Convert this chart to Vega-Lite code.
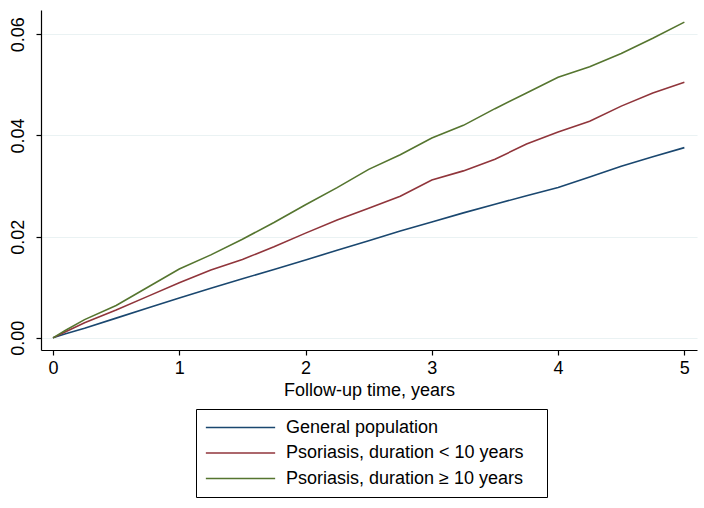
{
  "$schema": "https://vega.github.io/schema/vega-lite/v6.json",
  "width": 656,
  "height": 340,
  "autosize": {"type": "none"},
  "padding": {"left": 41, "top": 10, "right": 7, "bottom": 158},
  "background": "white",
  "config": {
    "view": {"stroke": null},
    "font": "Liberation Sans",
    "axis": {
      "domainColor": "black",
      "tickColor": "black",
      "labelColor": "black",
      "titleColor": "black",
      "labelFont": "Liberation Sans",
      "titleFont": "Liberation Sans",
      "labelFontSize": 18,
      "titleFontSize": 18,
      "titleFontWeight": "normal",
      "tickSize": 5,
      "domainWidth": 1.2,
      "tickWidth": 1.2
    }
  },
  "data": {
    "values": [
      {"t": 0, "r": 0, "g": "General population"},
      {"t": 0.1, "r": 0.0008, "g": "General population"},
      {"t": 0.25, "r": 0.0019, "g": "General population"},
      {"t": 0.5, "r": 0.0039, "g": "General population"},
      {"t": 0.75, "r": 0.0059, "g": "General population"},
      {"t": 1, "r": 0.0079, "g": "General population"},
      {"t": 1.25, "r": 0.0098, "g": "General population"},
      {"t": 1.5, "r": 0.0117, "g": "General population"},
      {"t": 1.75, "r": 0.0135, "g": "General population"},
      {"t": 2, "r": 0.0154, "g": "General population"},
      {"t": 2.25, "r": 0.0173, "g": "General population"},
      {"t": 2.5, "r": 0.0192, "g": "General population"},
      {"t": 2.75, "r": 0.0211, "g": "General population"},
      {"t": 3, "r": 0.0229, "g": "General population"},
      {"t": 3.25, "r": 0.0247, "g": "General population"},
      {"t": 3.5, "r": 0.0264, "g": "General population"},
      {"t": 3.75, "r": 0.0281, "g": "General population"},
      {"t": 4, "r": 0.0297, "g": "General population"},
      {"t": 4.25, "r": 0.0318, "g": "General population"},
      {"t": 4.5, "r": 0.0339, "g": "General population"},
      {"t": 4.75, "r": 0.0358, "g": "General population"},
      {"t": 5, "r": 0.0376, "g": "General population"},
      {"t": 0, "r": 0, "g": "Psoriasis, duration < 10 years"},
      {"t": 0.1, "r": 0.0012, "g": "Psoriasis, duration < 10 years"},
      {"t": 0.25, "r": 0.0030, "g": "Psoriasis, duration < 10 years"},
      {"t": 0.5, "r": 0.0055, "g": "Psoriasis, duration < 10 years"},
      {"t": 0.75, "r": 0.0082, "g": "Psoriasis, duration < 10 years"},
      {"t": 1, "r": 0.0109, "g": "Psoriasis, duration < 10 years"},
      {"t": 1.25, "r": 0.0134, "g": "Psoriasis, duration < 10 years"},
      {"t": 1.5, "r": 0.0155, "g": "Psoriasis, duration < 10 years"},
      {"t": 1.75, "r": 0.0180, "g": "Psoriasis, duration < 10 years"},
      {"t": 2, "r": 0.0207, "g": "Psoriasis, duration < 10 years"},
      {"t": 2.25, "r": 0.0233, "g": "Psoriasis, duration < 10 years"},
      {"t": 2.5, "r": 0.0256, "g": "Psoriasis, duration < 10 years"},
      {"t": 2.75, "r": 0.0280, "g": "Psoriasis, duration < 10 years"},
      {"t": 3, "r": 0.0312, "g": "Psoriasis, duration < 10 years"},
      {"t": 3.25, "r": 0.0330, "g": "Psoriasis, duration < 10 years"},
      {"t": 3.5, "r": 0.0353, "g": "Psoriasis, duration < 10 years"},
      {"t": 3.75, "r": 0.0383, "g": "Psoriasis, duration < 10 years"},
      {"t": 4, "r": 0.0407, "g": "Psoriasis, duration < 10 years"},
      {"t": 4.25, "r": 0.0428, "g": "Psoriasis, duration < 10 years"},
      {"t": 4.5, "r": 0.0458, "g": "Psoriasis, duration < 10 years"},
      {"t": 4.75, "r": 0.0484, "g": "Psoriasis, duration < 10 years"},
      {"t": 5, "r": 0.0505, "g": "Psoriasis, duration < 10 years"},
      {"t": 0, "r": 0, "g": "Psoriasis, duration ≥ 10 years"},
      {"t": 0.1, "r": 0.0015, "g": "Psoriasis, duration ≥ 10 years"},
      {"t": 0.25, "r": 0.0036, "g": "Psoriasis, duration ≥ 10 years"},
      {"t": 0.5, "r": 0.0064, "g": "Psoriasis, duration ≥ 10 years"},
      {"t": 0.75, "r": 0.0100, "g": "Psoriasis, duration ≥ 10 years"},
      {"t": 1, "r": 0.0136, "g": "Psoriasis, duration ≥ 10 years"},
      {"t": 1.25, "r": 0.0164, "g": "Psoriasis, duration ≥ 10 years"},
      {"t": 1.5, "r": 0.0195, "g": "Psoriasis, duration ≥ 10 years"},
      {"t": 1.75, "r": 0.0228, "g": "Psoriasis, duration ≥ 10 years"},
      {"t": 2, "r": 0.0263, "g": "Psoriasis, duration ≥ 10 years"},
      {"t": 2.25, "r": 0.0297, "g": "Psoriasis, duration ≥ 10 years"},
      {"t": 2.5, "r": 0.0333, "g": "Psoriasis, duration ≥ 10 years"},
      {"t": 2.75, "r": 0.0362, "g": "Psoriasis, duration ≥ 10 years"},
      {"t": 3, "r": 0.0395, "g": "Psoriasis, duration ≥ 10 years"},
      {"t": 3.25, "r": 0.0420, "g": "Psoriasis, duration ≥ 10 years"},
      {"t": 3.5, "r": 0.0453, "g": "Psoriasis, duration ≥ 10 years"},
      {"t": 3.75, "r": 0.0484, "g": "Psoriasis, duration ≥ 10 years"},
      {"t": 4, "r": 0.0515, "g": "Psoriasis, duration ≥ 10 years"},
      {"t": 4.25, "r": 0.0536, "g": "Psoriasis, duration ≥ 10 years"},
      {"t": 4.5, "r": 0.0562, "g": "Psoriasis, duration ≥ 10 years"},
      {"t": 4.75, "r": 0.0592, "g": "Psoriasis, duration ≥ 10 years"},
      {"t": 5, "r": 0.0624, "g": "Psoriasis, duration ≥ 10 years"}
    ]
  },
  "mark": {"type": "line", "strokeWidth": 1.6, "interpolate": "linear"},
  "encoding": {
    "x": {
      "field": "t",
      "type": "quantitative",
      "scale": {"domain": [-0.095, 5.1], "nice": false, "zero": false},
      "axis": {
        "values": [0, 1, 2, 3, 4, 5],
        "format": "d",
        "grid": false,
        "title": "Follow-up time, years",
        "labelPadding": 4,
        "titlePadding": 4
      }
    },
    "y": {
      "field": "r",
      "type": "quantitative",
      "scale": {"domain": [-0.0024, 0.0648], "nice": false, "zero": false},
      "axis": {
        "values": [0, 0.02, 0.04, 0.06],
        "format": ".2f",
        "title": null,
        "grid": true,
        "gridColor": "#eaf2f3",
        "gridWidth": 1.2,
        "labelAngle": -90,
        "labelAlign": "center",
        "labelBaseline": "bottom",
        "labelPadding": 9
      }
    },
    "color": {
      "field": "g",
      "type": "nominal",
      "scale": {
        "domain": ["General population", "Psoriasis, duration < 10 years", "Psoriasis, duration ≥ 10 years"],
        "range": ["#1a476f", "#90353b", "#55752f"]
      },
      "legend": {
        "title": " ",
        "titleOrient": "right",
        "titleFontSize": 6,
        "titlePadding": 14,
        "orient": "none",
        "legendX": 155,
        "legendY": 399,
        "direction": "vertical",
        "strokeColor": "black",
        "fillColor": "white",
        "padding": 9,
        "symbolType": "M-4,0H4",
        "symbolSize": 300,
        "symbolStrokeWidth": 1.6,
        "symbolOffset": 26,
        "labelOffset": 36,
        "labelFont": "Liberation Sans",
        "labelFontSize": 18,
        "labelColor": "black",
        "labelLimit": 400,
        "rowPadding": 6.5
      }
    }
  }
}
